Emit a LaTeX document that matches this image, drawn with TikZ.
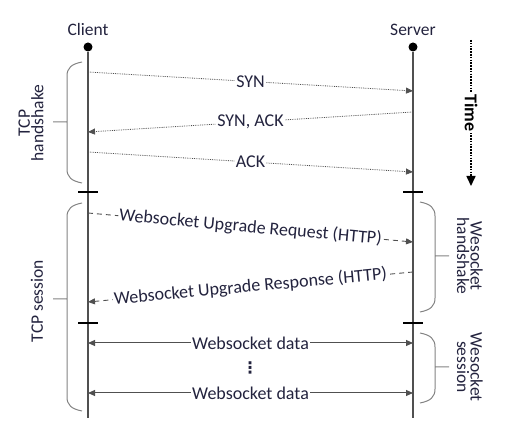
\documentclass[tikz,border=0pt]{standalone}
\usepackage{fontspec}
\setmainfont{Carlito}
\newfontfamily\symbolfont{DejaVu Sans}
\usepackage{xcolor}
\definecolor{ink}{RGB}{35,35,62}
\definecolor{life}{RGB}{80,80,80}
\definecolor{bracegray}{RGB}{130,130,130}
\usepackage{tikz}
\usetikzlibrary{
	arrows.meta,
	calc,
	positioning
}
\newcommand\SideBrace[6]{
	% #1: x of the tips
	% #2: x of the spine
	% #3: top y
	% #4: bottom y
	% #5: y of the tick
	% #6: x where the tick ends
	(#1,#3) .. controls ({#2+0.3*(#1-#2)},{#3+2}) and (#2,{#3+6}) .. (#2,{#3+14})
	-- (#2,{#4-14})
	.. controls (#2,{#4-6}) and ({#2+0.3*(#1-#2)},{#4-2}) .. (#1,#4)
	(#2,#5) -- (#6,#5)
}
\tikzstyle{every picture}+=[>={Triangle[length=7pt,width=6pt]}]

\begin{document}
\begin{tikzpicture}[x=1pt, y=-1pt,
		dot/.style={circle, fill=black, inner sep=0pt, minimum size=9pt},
		party/.style={text=ink, font=\fontsize{17.5}{20}\selectfont, inner sep=1pt},
		lifeln/.style={life, line width=1.3pt},
		bar/.style={black, line width=2.6pt},
		hs/.style={life, line width=0.8pt, densely dotted},
		up/.style={life, line width=0.9pt, dash pattern=on 5pt off 4pt},
		data/.style={life, line width=1pt},
		msg/.style={text=ink, font=\fontsize{18}{20}\selectfont, fill=white, inner sep=1pt},
		brace/.style={bracegray, line width=1pt},
		sidelabel/.style={text=ink, align=center, font=\fontsize{17.5}{13.5}\selectfont, inner sep=0pt}
	]
	\useasboundingbox (0,0) rectangle (507,427);

	% lifelines
	\node[dot] (cdot) at (88,47) {};
	\node[dot] (sdot) at (413,47) {};
	\node[party, above=5pt of cdot] (client) {Client};
	\node[party, above=5pt of sdot] (server) {Server};
	\coordinate (cend) at (88,418);
	\coordinate (send) at (413,418);
	\draw[lifeln] (cdot) -- (cend);
	\draw[lifeln] (sdot) -- (send);

	\foreach \ty in {192, 323} {
		\draw[bar] (cdot |- 0,\ty) ++(-10,0) -- ++(20,0);
		\draw[bar] (sdot |- 0,\ty) ++(-10,0) -- ++(20,0);
	}

	% where the messages leave and reach the lifelines
	\foreach \name/\cy/\sy in {syn/72/91, synack/132/112, ack/152/172, req/213/242, resp/302/272, dataA/343/343, dataB/393/393} {
		\coordinate (c-\name) at (cdot |- 0,\cy);
		\coordinate (s-\name) at (sdot |- 0,\sy);
	}

	\draw[hs, ->] (c-syn) -- node[msg] (lsyn) {SYN} (s-syn);
	\draw[hs, ->] (s-synack) -- node[msg] (lsynack) {SYN, ACK} (c-synack);
	\draw[hs, ->] (c-ack) -- node[msg] (lack) {ACK} (s-ack);

	\draw[up, ->] (c-req) -- node[msg, sloped] (lreq) {Websocket Upgrade Request (HTTP)} (s-req);
	\draw[up, ->] (s-resp) -- node[msg, sloped] (lresp) {Websocket Upgrade Response (HTTP)} (c-resp);

	\draw[data, <->] (c-dataA) -- node[msg] (ldataA) {Websocket data} (s-dataA);
	\draw[data, <->] (c-dataB) -- node[msg] (ldataB) {Websocket data} (s-dataB);
	\node[text=ink, font=\fontsize{16}{16}\selectfont\symbolfont\bfseries] (vdots) at (250,368) {⋮};

	% time axis
	\coordinate (ttop) at (471,40);
	\coordinate (tbot) at (471,186);
	\draw[black, line width=1.6pt, dash pattern=on 1.6pt off 1.2pt, -{Triangle[length=10pt,width=9pt]}]
		(ttop) -- node[fill=white, rotate=-90, inner sep=1pt, font=\fontsize{18}{20}\selectfont\bfseries] (time) {Time} (tbot);

	% braces
	\draw[brace] \SideBrace{82}{67}{62}{183}{122}{53};
	\draw[brace] \SideBrace{82}{67}{203}{411}{299}{53};
	\draw[brace] \SideBrace{420}{435}{202}{312}{256}{449};
	\draw[brace] \SideBrace{420}{435}{333}{403}{367}{449};

	\node[sidelabel, rotate=90] (tcphs) at (31,123) {TCP\\handshake};
	\node[sidelabel, rotate=90] (tcpsess) at (37,301) {TCP session};
	\node[sidelabel, rotate=-90] (wshs) at (470,256) {Wesocket\\handshake};
	\node[sidelabel, rotate=-90] (wssess) at (470,367) {Wesocket\\session};

\end{tikzpicture}
\end{document}
